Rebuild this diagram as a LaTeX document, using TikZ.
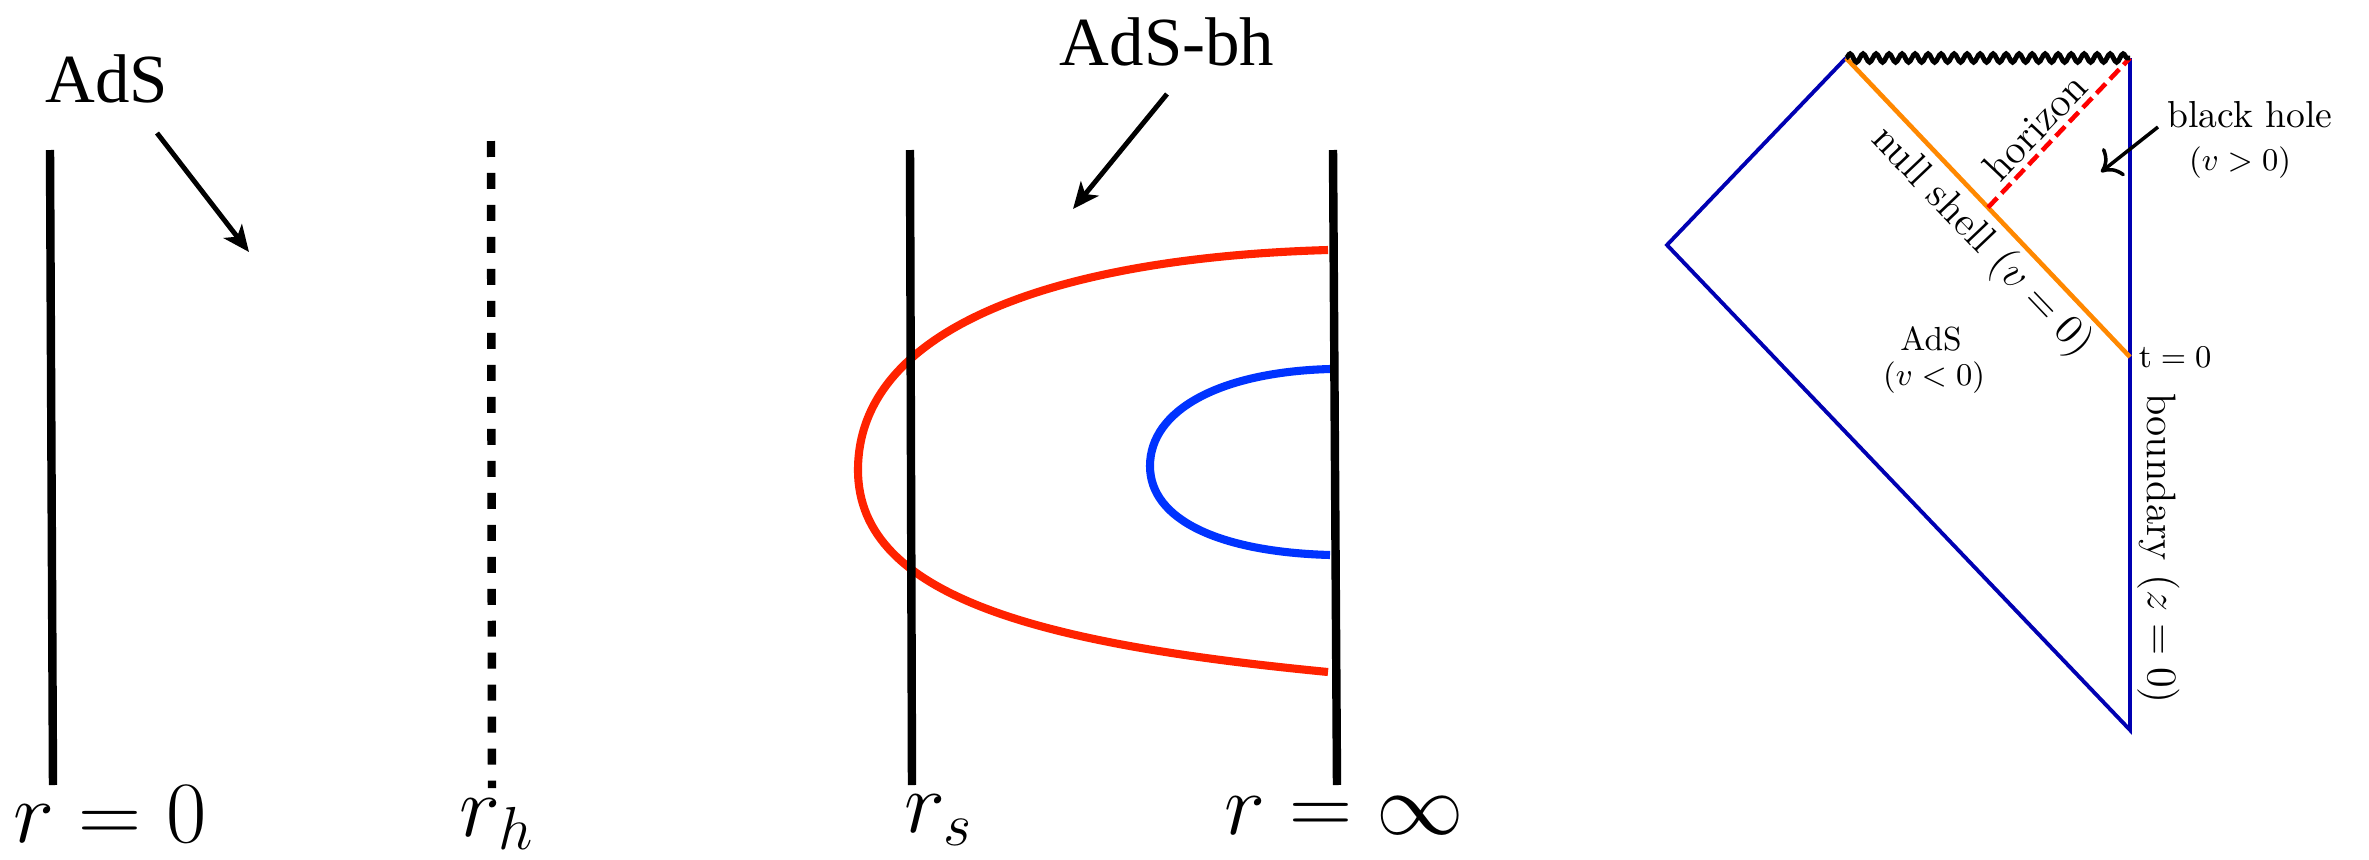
\documentclass[tikz,border=0pt]{standalone}
\usepackage{fontspec}
\usepackage{amsmath}
\usetikzlibrary{arrows.meta,decorations.pathmorphing,calc}
\newfontfamily\timesfont{Liberation Serif}
\definecolor{geored}{RGB}{255,34,0}
\definecolor{geoblue}{RGB}{0,51,255}
\definecolor{pdblue}{RGB}{0,0,178}
\definecolor{shellorange}{RGB}{255,136,0}

\begin{document}
\begin{tikzpicture}[
    wall/.style={line width=2.4pt},
    hwall/.style={line width=2.4pt, dash pattern=on 4.55pt off 4.55pt},
    geodesic/.style={line width=2.3pt},
    pointer/.style={-{Stealth[length=7.5pt,width=6.5pt,inset=2pt]}, line width=1.4pt},
    bigtext/.style={font=\timesfont\fontsize{19.6}{22}\selectfont, inner sep=0pt, anchor=base},
    rlabel/.style={font=\fontsize{24}{28}\selectfont, inner sep=0pt, anchor=base},
    edge/.style={pdblue, line width=1.1pt},
    shell/.style={shellorange, line width=1.3pt},
    hor/.style={red, line width=1.3pt, dash pattern=on 3.8pt off 1.8pt},
    singularity/.style={line width=1.4pt, decorate,
        decoration={snake, amplitude=1.2pt, segment length=3.7pt}},
    pdlabel/.style={font=\fontsize{11.7}{14}\selectfont, sloped, inner sep=1.5pt, text=black},
    smalltext/.style={font=\fontsize{9.3}{11}\selectfont, inner sep=0pt, anchor=base},
    bharrow/.style={-{Computer Modern Rightarrow[length=5pt,width=10pt]}, line width=1pt}
]
\useasboundingbox (0,0) rectangle (23.69,8.59);

% pure AdS
\coordinate (zt) at (0.50,7.09);
\coordinate (zb) at (0.53,0.74);
\coordinate (ht) at (4.91,7.18);
\coordinate (hb) at (4.92,0.71);
\draw[wall] (zt) -- (zb);
\draw[hwall] (ht) -- (hb);
\node[bigtext] (ads) at (1.07,7.57) {AdS};
\coordinate (adsfrom) at (1.57,7.26);
\coordinate (adsto) at (2.49,6.07);
\draw[pointer] (adsfrom) -- (adsto);
\node[rlabel] (rzero) at (1.10,0.17) {$r=0$};
\node[rlabel] (rh) at (4.97,0.23) {$r_h$};

% AdS black hole with geodesics
\draw[geodesic, geored] (13.28,6.09) .. controls (10.50,6.01) and (8.58,5.29) .. (8.58,3.89)
    .. controls (8.58,2.59) and (10.50,2.14) .. (13.28,1.87);
\draw[geodesic, geoblue] (13.30,4.90) .. controls (12.20,4.87) and (11.50,4.49) .. (11.50,3.93)
    .. controls (11.50,3.39) and (12.20,3.07) .. (13.30,3.04);
\coordinate (st) at (9.10,7.09);
\coordinate (sb) at (9.12,0.74);
\coordinate (it) at (13.33,7.09);
\coordinate (ib) at (13.37,0.74);
\draw[wall] (st) -- (sb);
\draw[wall] (it) -- (ib);
\node[bigtext] (adsbh) at (11.67,7.94) {AdS-bh};
\coordinate (bhfrom) at (11.67,7.65);
\coordinate (bhto) at (10.73,6.50);
\draw[pointer] (bhfrom) -- (bhto);
\node[rlabel] (rs) at (9.39,0.27) {$r_s$};
\node[rlabel] (rinf) at (13.44,0.25) {$r=\infty$};

% Penrose diagram of the collapse
\coordinate (tl) at (18.46,8.01);
\coordinate (tr) at (21.30,8.01);
\coordinate (lc) at (16.67,6.14);
\coordinate (bt) at (21.30,1.29);
\coordinate (t0) at (21.30,5.02);
\coordinate (hz) at ($(tl)!0.5!(t0)$);

\draw[edge] (tr) -- node[pdlabel, above, pos=0.73, allow upside down] {boundary $(z=0)$} (bt)
    -- (lc) -- (tl);
\draw[shell] (tl) -- node[pdlabel, below, pos=0.55] {null shell $(v=0)$} (t0);
\draw[hor] (hz) -- node[pdlabel, above, pos=0.44] {horizon} (tr);
\draw[singularity] (tl) -- (tr);

\node[smalltext, anchor=west, xshift=2.3pt] (tzero) at (t0) {$\mathrm{t}=0$};
\node[smalltext, font=\fontsize{9.5}{11}\selectfont] (adsin) at (19.31,5.09) {AdS};
\node[smalltext, font=\fontsize{9}{11}\selectfont] (adsv) at (19.34,4.74) {$(v<0)$};
\node[smalltext, font=\fontsize{10.7}{13}\selectfont] (bh) at (22.50,7.32) {black hole};
\node[smalltext, font=\fontsize{9}{11}\selectfont] (bhv) at (22.40,6.89) {$(v>0)$};
\coordinate (bhtip) at (21.01,6.87);
\draw[bharrow] ([xshift=-2.5pt]bh.base west) -- (bhtip);
\end{tikzpicture}
\end{document}
